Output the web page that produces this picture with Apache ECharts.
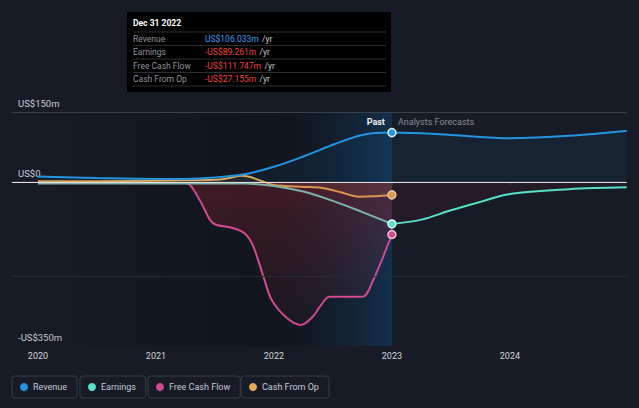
<!DOCTYPE html>
<html>
<head>
<meta charset="utf-8">
<style>
  html, body { margin: 0; padding: 0; background: #161b26; }
  #chart { width: 639px; height: 408px; }
</style>
<script src="https://cdn.jsdelivr.net/npm/echarts@6/dist/echarts.min.js"></script>
</head>
<body>
<div id="chart"></div>
<script>
// ---- Data (US$ millions, x = fractional year) ----
const yearTicks = [2020, 2021, 2022, 2023, 2024];
const yTickValues = [150, 0, -350];
const yTickLabels = ['US$150m', 'US$0', '-US$350m'];

const revenueX = [2020, 2020.5, 2021, 2021.25, 2021.5, 2021.75, 2022, 2022.25, 2022.5, 2022.75, 2023, 2023.5, 2024, 2024.5, 2024.99];
const revenueY = [12, 9, 7, 7, 10, 17, 33, 55, 80, 101, 106.033, 101, 94, 99, 110];

const earningsPastX = [2020, 2020.5, 2021, 2021.5, 2021.75, 2022, 2022.25, 2022.5, 2022.75, 2023];
const earningsPastY = [-3, -3, -3, -3, -3, -8, -20, -40, -64, -89.261];
const earningsFcX = [2023, 2023.25, 2023.5, 2023.75, 2024, 2024.5, 2024.99];
const earningsFcY = [-89.261, -80, -60, -42, -25, -15, -11];

const fcfX = [2020, 2020.5, 2021, 2021.26, 2021.37, 2021.46, 2021.51, 2021.65, 2021.75, 2021.82, 2021.91, 2021.98, 2022.11, 2022.23, 2022.33, 2022.39, 2022.47, 2022.75, 2022.84, 2023];
const fcfY = [-1, -1, -1, -2, -38, -81, -91, -98, -109, -134, -201, -251, -290, -305, -287, -266, -245, -245, -210, -111.747];

const cfoX = [2020, 2020.5, 2021, 2021.25, 2021.5, 2021.62, 2021.72, 2021.8, 2021.9, 2022, 2022.25, 2022.4, 2022.56, 2022.72, 2022.85, 2023];
const cfoY = [2, 2, 3, 4, 5, 9, 14, 11, 2, -6, -10, -12, -21, -31, -30, -27.155];

const tooltipDate = 'Dec 31 2022';
const tooltipRows = [
  ['Revenue', 'US$106.033m', '#2f9ef0'],
  ['Earnings', '-US$89.261m', '#f0403a'],
  ['Free Cash Flow', '-US$111.747m', '#f0403a'],
  ['Cash From Op', '-US$27.155m', '#f0403a']
];

const C = {
  revenue: '#2394df',
  earnings: '#58e0c8',
  earningsPast: '#7fb3aa',
  fcf: '#cf4a8e',
  cfo: '#e6a955'
};

function pts(xs, ys, markAt, color, border) {
  return xs.map((x, i) => {
    if (markAt !== undefined && x === markAt) {
      return { value: [x, ys[i]], symbol: 'circle', symbolSize: 8,
        itemStyle: { color: color, borderColor: border, borderWidth: 1.5 } };
    }
    return [x, ys[i]];
  });
}

const chart = echarts.init(document.getElementById('chart'), null, { renderer: 'svg' });
const FONT = 'Roboto, "Noto Sans", sans-serif';

function legendBox(name, left, color) {
  return {
    data: [{ name: name, itemStyle: { color: color } }],
    left: left, top: 376,
    orient: 'horizontal',
    icon: 'circle', itemWidth: 8, itemHeight: 8,
    padding: [5, 10, 5, 8],
    borderColor: '#363c48', borderWidth: 1, borderRadius: 3,
    textStyle: { color: '#c6cad2', fontSize: 9, fontFamily: FONT, lineHeight: 12 },
    selectedMode: false
  };
}

const rowYs = [38.5, 52, 65.5, 79];
const sepYs = [32, 45.5, 59, 72.5, 86];
const tipChildren = [
  { type: 'rect', shape: { x: 127, y: 12, width: 264, height: 80 }, style: { fill: '#000' } },
  { type: 'text', x: 133, y: 23, style: { text: tooltipDate, fill: '#ffffff', font: 'bold 8.5px ' + FONT, verticalAlign: 'middle' } }
];
sepYs.forEach(y => tipChildren.push({ type: 'line', shape: { x1: 133, y1: y, x2: 386, y2: y }, style: { stroke: '#2e2e30', lineWidth: 1 } }));
tooltipRows.forEach((r, i) => {
  tipChildren.push({ type: 'text', x: 133, y: rowYs[i], style: { text: r[0], fill: '#8e939b', font: '8.5px ' + FONT, verticalAlign: 'middle' } });
  tipChildren.push({ type: 'text', x: 205, y: rowYs[i], style: {
    text: '{v|' + r[1] + '} {u|/yr}', verticalAlign: 'middle',
    rich: { v: { fill: r[2], font: '8.5px ' + FONT }, u: { fill: '#c8c8c8', font: '8.5px ' + FONT } } } });
});

const option = {
  backgroundColor: '#161b26',
  animation: false,
  grid: { left: 12, right: 12.3, top: 112, bottom: 62, containLabel: false },
  xAxis: {
    type: 'value', min: 2019.78, max: 2024.99,
    axisLine: { show: true, lineStyle: { color: '#323844', width: 1.5 } },
    axisTick: { show: true, customValues: yearTicks, length: 3, lineStyle: { color: '#3a404c' } },
    axisLabel: { customValues: yearTicks, color: '#d2d6dc', fontSize: 9, fontFamily: FONT, margin: 5, formatter: v => String(v) },
    splitLine: { show: false }
  },
  yAxis: {
    type: 'value', min: -350, max: 150,
    axisLine: { show: false }, axisTick: { show: false },
    axisLabel: {
      inside: true, customValues: yTickValues, margin: 6,
      verticalAlign: 'bottom', padding: [0, 0, 4, 0],
      color: '#c8ccd4', fontSize: 9.5, fontFamily: FONT,
      formatter: v => yTickLabels[yTickValues.indexOf(v)]
    },
    splitLine: { show: false }
  },
  legend: [
    legendBox('Revenue', 12, C.revenue),
    legendBox('Earnings', 80, C.earnings),
    legendBox('Free Cash Flow', 148, C.fcf),
    legendBox('Cash From Op', 241, C.cfo)
  ],
  graphic: [{ type: 'group', z: 100, children: tipChildren }],
  series: [
    {
      name: 'bg', type: 'line', z: 1, silent: true, symbol: 'none',
      data: [[2020, 0]], lineStyle: { opacity: 0 },
      markArea: {
        silent: true,
        data: [
          [{ coord: [2020, 150], itemStyle: { color: { type: 'linear', x: 0, y: 0, x2: 1, y2: 0,
              colorStops: [{ offset: 0, color: 'rgba(0,0,0,0.02)' }, { offset: 1, color: 'rgba(0,0,0,0.24)' }] } } },
           { coord: [2022, -350] }],
          [{ coord: [2022, 150], itemStyle: { color: { type: 'linear', x: 0, y: 0, x2: 1, y2: 0,
              colorStops: [{ offset: 0, color: 'rgba(0,0,0,0.22)' }, { offset: 1, color: 'rgba(18,70,115,0.5)' }] } } },
           { coord: [2023, -350] }]
        ]
      }
    },
    {
      name: 'Free Cash Flow', type: 'line', z: 2, smooth: 0.3, symbol: 'none',
      data: pts(fcfX, fcfY, 2023, C.fcf, '#f2c6dc'),
      lineStyle: { color: C.fcf, width: 2 }, itemStyle: { color: C.fcf },
      areaStyle: { color: { type: 'linear', x: 0, y: 0, x2: 0, y2: 1,
        colorStops: [{ offset: 0, color: 'rgba(160,40,52,0.45)' }, { offset: 1, color: 'rgba(160,40,52,0.08)' }] } },
      emphasis: { disabled: true }
    },
    {
      name: 'Cash From Op', type: 'line', z: 3, smooth: 0.3, symbol: 'none',
      data: pts(cfoX, cfoY, 2023, C.cfo, '#f6dcb4'),
      lineStyle: { color: C.cfo, width: 2 }, itemStyle: { color: C.cfo },
      areaStyle: { color: 'rgba(232,170,80,0.12)' },
      emphasis: { disabled: true }
    },
    {
      name: 'Earnings', type: 'line', z: 4, smooth: 0.35, symbol: 'none',
      data: pts(earningsPastX, earningsPastY),
      lineStyle: { color: C.earningsPast, width: 2 }, itemStyle: { color: C.earnings },
      areaStyle: { color: 'rgba(140,35,40,0.18)' },
      emphasis: { disabled: true }
    },
    {
      name: 'Earnings', type: 'line', z: 4, smooth: 0.35, symbol: 'none',
      data: pts(earningsFcX, earningsFcY, 2023, C.earnings, '#e6fff9'),
      lineStyle: { color: C.earnings, width: 2 }, itemStyle: { color: C.earnings },
      areaStyle: { color: 'rgba(130,35,35,0.18)' },
      emphasis: { disabled: true }
    },
    {
      name: 'Revenue', type: 'line', z: 5, smooth: 0.35, symbol: 'none',
      data: pts(revenueX, revenueY, 2023, C.revenue, '#dcecff'),
      lineStyle: { color: C.revenue, width: 2 }, itemStyle: { color: C.revenue },
      areaStyle: { color: 'rgba(35,148,223,0.1)' },
      emphasis: { disabled: true },
      markLine: {
        silent: true, symbol: 'none', label: { show: false },
        data: [
          { yAxis: 150, lineStyle: { color: '#3a404b', width: 1, type: 'solid' } },
          { yAxis: -200, lineStyle: { color: '#252a35', width: 1, type: 'solid' } },
          { yAxis: 0, lineStyle: { color: '#e6e0e0', width: 1, type: 'solid' } },
          [{ coord: [2023, 193], lineStyle: { color: '#2b3e52', width: 1, type: 'solid' } }, { coord: [2023, -350] }]
        ]
      },
      markPoint: {
        silent: true, symbol: 'circle', symbolSize: 0,
        data: [
          { coord: [2023, 128.7], label: { show: true, position: 'left', distance: 7, formatter: 'Past',
              color: '#eceef2', fontSize: 9, fontWeight: 'bold', fontFamily: FONT } },
          { coord: [2023, 128.7], label: { show: true, position: 'right', distance: 6, formatter: 'Analysts Forecasts',
              color: '#878c95', fontSize: 9, fontFamily: FONT } }
        ]
      }
    }
  ]
};
chart.setOption(option);
</script>
</body>
</html>
